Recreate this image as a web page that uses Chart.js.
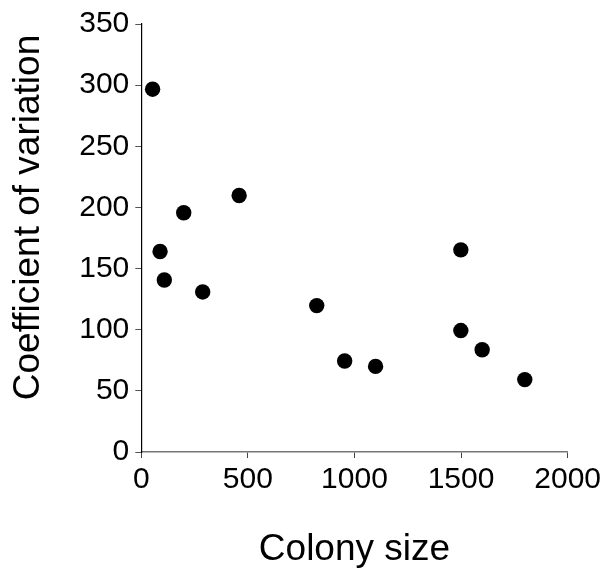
<!DOCTYPE html>
<html>
<head>
<meta charset="utf-8">
<script src="https://cdn.jsdelivr.net/npm/chart.js@4"></script>
<style>
  html, body { margin: 0; padding: 0; background: #fff; }
  #c { display: block; }
</style>
</head>
<body>
<canvas id="c" width="605" height="572"></canvas>
<script>
const colonySize = [53, 88, 108, 199, 288, 459, 823, 954, 1099, 1499, 1499, 1599, 1799];
const coeffVariation = [296.7, 164, 140.6, 195.7, 130.9, 209.8, 119.7, 74.4, 70, 165.3, 99.3, 83.6, 59.2];
const xTickValues = [0, 500, 1000, 1500, 2000];
const yTickValues = [0, 50, 100, 150, 200, 250, 300, 350];
const xTitle = 'Colony size';
const yTitle = 'Coefficient of variation';

const FONT = '"Liberation Sans", Arial, Helvetica, sans-serif';
const points = colonySize.map((x, i) => ({ x: x, y: coeffVariation[i] }));

const yTitlePlugin = {
  id: 'yTitle',
  afterDraw(chart) {
    const ctx = chart.ctx;
    ctx.save();
    ctx.translate(29.2, 217.5);
    ctx.rotate(-Math.PI / 2);
    ctx.fillStyle = '#000';
    ctx.font = '37px ' + FONT;
    ctx.textAlign = 'center';
    ctx.textBaseline = 'middle';
    ctx.fillText(yTitle, 0, 0);
    ctx.restore();
  }
};

new Chart(document.getElementById('c'), {
  type: 'scatter',
  data: {
    datasets: [{
      data: points,
      backgroundColor: '#000',
      borderWidth: 0,
      pointRadius: 7.7,
      pointHoverRadius: 7.7
    }]
  },
  plugins: [yTitlePlugin],
  options: {
    responsive: false,
    animation: false,
    layout: { padding: { left: 0, right: 37, top: 22, bottom: 0 } },
    plugins: { legend: { display: false }, tooltip: { enabled: false } },
    scales: {
      x: {
        type: 'linear',
        min: 0, max: 2000,
        afterBuildTicks: s => { s.ticks = xTickValues.map(v => ({ value: v })); },
        afterFit: s => { s.height = 120; },
        border: { display: true, color: '#777', width: 1.5 },
        grid: { display: true, drawOnChartArea: false, drawTicks: true, tickLength: 6, color: '#444', lineWidth: 1 },
        ticks: { color: '#000', font: { family: FONT, size: 30 }, padding: 4, maxRotation: 0, callback: v => String(v) },
        title: { display: true, text: xTitle, color: '#000', font: { family: FONT, size: 37 }, padding: { top: 0, bottom: 0 } }
      },
      y: {
        type: 'linear',
        min: 0, max: 350,
        afterBuildTicks: s => { s.ticks = yTickValues.map(v => ({ value: v })); },
        afterFit: s => { s.width = 141.3; },
        border: { display: true, color: '#000', width: 1.2 },
        grid: { display: true, drawOnChartArea: false, drawTicks: true, tickLength: 6, color: '#555', lineWidth: 1 },
        ticks: { color: '#000', font: { family: FONT, size: 30 }, padding: 6, callback: v => String(v) },
        title: { display: false }
      }
    }
  }
});
</script>
</body>
</html>
